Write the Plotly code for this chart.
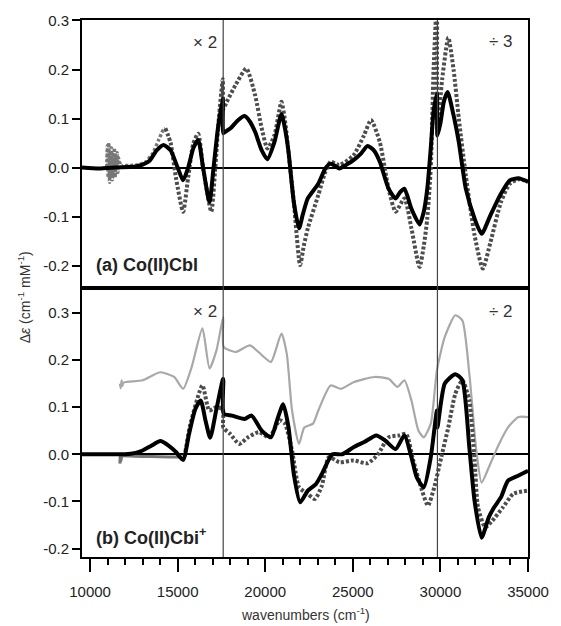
import plotly.graph_objects as go

# ---------------- data ----------------
# Panel (a) Co(II)Cbl
a_black_x = [9540, 10500, 11500, 12600, 13000, 13400, 13800, 14200, 14600, 15000, 15310, 15600, 15900, 16175, 16450,
             16817, 17050, 17300, 17580, 17610, 17800, 18020, 18400, 18820, 19100, 19420, 19800, 20125, 20525, 20925,
             21150, 21330, 21630, 21930, 22150, 22430, 23030, 23430, 23735, 24000, 24235, 24600, 25040, 25450, 25840,
             26200, 26540, 27040, 27445, 27700, 27945, 28345, 28810, 29050, 29250, 29450, 29610, 29800, 29830, 30000,
             30200, 30410, 30700, 31050, 31450, 31950, 32350, 32860, 33460, 33960, 34460, 35000]
a_black_y = [0.0, -0.002, 0.0, 0.002, 0.006, 0.014, 0.035, 0.046, 0.035, 0.0, -0.026, 0.0, 0.04, 0.056, 0.0,
             -0.070, 0.0, 0.08, 0.141, 0.07, 0.075, 0.08, 0.095, 0.105, 0.095, 0.073, 0.035, 0.017, 0.052, 0.109,
             0.075, 0.032, -0.070, -0.124, -0.095, -0.063, -0.033, -0.002, 0.008, 0.003, -0.002, 0.005, 0.015, 0.028, 0.044,
             0.035, 0.012, -0.043, -0.063, -0.05, -0.043, -0.084, -0.116, -0.09, -0.043, 0.04, 0.114, 0.15, 0.065, 0.09,
             0.135, 0.154, 0.115, 0.052, -0.043, -0.104, -0.135, -0.097, -0.053, -0.026, -0.022, -0.029]

a_dot_x = [14300, 14600, 14900, 15310, 15600, 15900, 16175, 16450, 16920, 17150, 17350, 17580, 17610, 17800, 18300,
           18920, 19420, 19800, 20125, 20525, 20925, 21150, 21330, 21630, 21990, 22200, 22430, 23030, 23430, 23735,
           24235, 25040, 25640, 26040, 26540, 27040, 27445, 27945, 28345, 28810, 29050, 29250, 29450, 29610, 29800,
           29830, 30100, 30450, 30750, 31050, 31450, 31950, 32420, 32860, 33460, 33960, 34460, 35000]
a_dot_y = [0.08, 0.05, -0.02, -0.09, -0.02, 0.05, 0.069, 0.0, -0.09, 0.0, 0.1, 0.18, 0.12, 0.134, 0.168,
           0.202, 0.148, 0.08, 0.039, 0.066, 0.134, 0.09, 0.03, -0.07, -0.199, -0.16, -0.124, -0.056, -0.009, 0.012,
           0.005, 0.025, 0.066, 0.097, 0.052, -0.043, -0.09, -0.063, -0.124, -0.203, -0.16, -0.104, 0.0, 0.2, 0.34,
           0.08, 0.18, 0.265, 0.2, 0.1, -0.016, -0.138, -0.206, -0.152, -0.07, -0.033, -0.024, -0.029]

a_nir_x = [10950, 10990, 11030, 11070, 11110, 11150, 11190, 11230, 11270, 11310, 11350, 11390, 11430, 11470, 11510,
           11550, 11590, 11630, 11670, 11710, 11760, 11900, 12300, 12800, 13200, 13600, 13900, 14150, 14300]
a_nir_y = [0.0, 0.045, -0.02, 0.05, -0.03, 0.035, -0.015, 0.04, -0.025, 0.03, -0.01, 0.04, -0.02, 0.025, 0.0,
           0.03, -0.01, 0.02, 0.0, 0.01, 0.002, 0.004, 0.004, 0.006, 0.012, 0.03, 0.055, 0.075, 0.08]

# Panel (b) Co(II)Cbi+
b_black_x = [9540, 11000, 12000, 12600, 13000, 13500, 14010, 14500, 14900, 15310, 15650, 16000, 16315, 16600, 16857,
             17200, 17600, 17630, 18100, 18820, 19220, 19800, 20325, 20700, 21025, 21330, 21630, 21990, 22430, 22900,
             23230, 23835, 24400, 25040, 25650, 26340, 26850, 27445, 27945, 28345, 28650, 29050, 29450, 29800, 29830,
             30250, 30850, 31250, 31650, 31950, 32350, 32760, 33060, 33460, 33860, 34460, 35000]
b_black_y = [0.0, 0.0, 0.0, 0.003, 0.008, 0.018, 0.028, 0.018, 0.005, -0.012, 0.043, 0.095, 0.114, 0.07, 0.035,
             0.093, 0.16, 0.086, 0.082, 0.075, 0.082, 0.05, 0.036, 0.075, 0.106, 0.057, -0.042, -0.102, -0.077, -0.063,
             -0.042, 0.0, 0.0, 0.015, 0.026, 0.04, 0.029, 0.011, 0.04, -0.006, -0.049, -0.07, -0.006, 0.093, 0.057,
             0.15, 0.17, 0.157, 0.015, -0.099, -0.177, -0.134, -0.113, -0.091, -0.056, -0.045, -0.035]

b_dot_x = [15000, 15310, 15700, 16415, 16800, 17200, 17580, 17610, 18000, 18520, 19020, 19620, 20225, 20825, 21125,
           21530, 21930, 22430, 22830, 23230, 23635, 24235, 25040, 25840, 26440, 27040, 27645, 28045, 28450, 28950,
           29290, 29650, 30050, 30450, 30850, 31250, 31650, 31950, 32150, 32560, 32960, 33560, 34160, 35000]
b_dot_y = [0.0, -0.01, 0.06, 0.146, 0.093, 0.1, 0.095, 0.057, 0.043, 0.022, 0.036, 0.047, 0.036, 0.072, 0.065,
           0.008, -0.07, -0.084, -0.095, -0.067, -0.006, -0.017, -0.013, -0.019, 0.0, 0.036, 0.04, 0.043, -0.013, -0.077,
           -0.109, -0.07, -0.006, 0.057, 0.128, 0.157, 0.114, -0.013, -0.113, -0.155, -0.141, -0.113, -0.084, -0.077]

b_abs_x = [11700, 11750, 11800, 11850, 11900, 13000, 14010, 14800, 15310, 15800, 16415, 16820, 17220, 17600, 17630,
           18320, 19120, 19820, 20325, 20925, 21230, 21530, 21930, 22230, 22730, 23030, 23735, 24335, 25040, 26240,
           27040, 27545, 27945, 28345, 28750, 29050, 29450, 29800, 30250, 30850, 31250, 31650, 32050, 32350, 32760,
           33260, 33860, 34460, 35000]
b_abs_y = [0.15, 0.14, 0.157, 0.145, 0.152, 0.157, 0.174, 0.164, 0.139, 0.185, 0.267, 0.182, 0.221, 0.291, 0.228,
           0.217, 0.231, 0.21, 0.196, 0.256, 0.213, 0.093, 0.022, 0.057, 0.065, 0.093, 0.146, 0.139, 0.153, 0.164,
           0.16, 0.143, 0.157, 0.114, 0.05, 0.036, 0.065, 0.178, 0.249, 0.295, 0.284, 0.171, 0.008, -0.06, -0.028,
           0.015, 0.057, 0.079, 0.079]

b_nir_x = [11700, 11730, 11760, 11800, 11900, 12500, 13500, 14500, 15200]
b_nir_y = [-0.02, 0.0, -0.015, -0.005, -0.003, -0.004, -0.005, -0.006, -0.006]

scale_breaks = [17600, 29830]
y_ticks = [-0.2, -0.1, 0.0, 0.1, 0.2, 0.3]
x_major = [10000, 15000, 20000, 25000, 30000, 35000]
x_minor = [10000 + 1000 * i for i in range(26)]

FONT = "Liberation Sans, Arial, sans-serif"
BLACK_W = 4
DOT_COL = "#4d4d4d"
DOT = "3px,2px"

fig = go.Figure()

def add(x, y, ax, color, width, dash="solid", smooth=0.6):
    fig.add_trace(go.Scatter(x=x, y=y, xaxis=ax[0], yaxis=ax[1], mode="lines",
                             line=dict(color=color, width=width, dash=dash, shape="spline", smoothing=smooth),
                             showlegend=False, hoverinfo="skip"))

# top panel
add(a_nir_x, a_nir_y, ("x2", "y2"), "#777777", 3.5, DOT, 0.3)
add(a_dot_x, a_dot_y, ("x2", "y2"), DOT_COL, 4, DOT)
add(a_black_x, a_black_y, ("x2", "y2"), "black", BLACK_W, "solid")
# bottom panel
add(b_abs_x, b_abs_y, ("x", "y"), "#a8a8a8", 2.2, "solid")
add(b_nir_x, b_nir_y, ("x", "y"), "#777777", 3, "solid", 0.3)
add(b_dot_x, b_dot_y, ("x", "y"), DOT_COL, 4, DOT)
add(b_black_x, b_black_y, ("x", "y"), "black", BLACK_W, "solid")

# layout geometry in page pixels (body margin removed by post_script below)
W, H = 561, 626
PL, PR, PT, PB = 82, 536.7, 20, 556.7        # plot frame in page pixels
L, T = PL, PT
R, B = W - PR, H - PB
pw, ph = PR - PL, PB - PT
split = (PB - 288) / ph

def px2paper_x(px):
    return (px - PL) / pw

def px2paper_y(py):
    return (PB - py) / ph

axis_common = dict(showline=True, linecolor="black", linewidth=2, mirror=True, showgrid=False,
                   tickfont=dict(family=FONT, size=15, color="#222"))

fig.update_layout(
    width=W, height=H, margin=dict(l=L, r=R, t=T, b=B, pad=0),
    paper_bgcolor="white", plot_bgcolor="white",
    font=dict(family=FONT, color="#222"),
    xaxis=dict(range=[9540, 35000], anchor="y", domain=[0, 1], tickmode="array", tickvals=x_major,
               ticktext=[str(v) for v in x_major],
               ticks="outside", ticklen=13, tickwidth=2, tickcolor="black", ticklabelstandoff=7,
               minor=dict(tickmode="array", tickvals=x_minor, ticks="outside", ticklen=6, tickwidth=2,
                          tickcolor="black", showgrid=False),
               zeroline=False, **axis_common),
    xaxis2=dict(range=[9540, 35000], anchor="y2", showticklabels=False, ticks="",
                zeroline=False, **axis_common),
    yaxis=dict(range=[-0.218, 0.3525], domain=[0, split], anchor="x", tickmode="array", tickvals=y_ticks,
               ticktext=["%.1f" % v for v in y_ticks],
               ticks="outside", ticklen=8, tickwidth=2, tickcolor="black",
               zeroline=True, zerolinecolor="black", zerolinewidth=2, **axis_common),
    yaxis2=dict(range=[-0.246, 0.301], domain=[split, 1], anchor="x2", tickmode="array", tickvals=y_ticks,
                ticktext=["%.1f" % v for v in y_ticks],
                ticks="outside", ticklen=8, tickwidth=2, tickcolor="black",
                zeroline=True, zerolinecolor="black", zerolinewidth=2, **axis_common),
)

for xb in scale_breaks:
    fig.add_shape(type="line", xref="x", yref="paper", x0=xb, x1=xb, y0=0, y1=1,
                  line=dict(color="#444", width=1.2), layer="above")

ann_font = dict(family=FONT, size=17, color="#333")
notes = [("× 2", 222, 42), ("÷ 3", 523, 41), ("× 2", 222, 311), ("÷ 2", 523, 311)]
for txt, px, py in notes:
    fig.add_annotation(text=txt, xref="paper", yref="paper", x=px2paper_x(px), y=px2paper_y(py),
                       xanchor="right", yanchor="middle", showarrow=False, font=ann_font)

lab_font = dict(family=FONT, size=18, color="#222")
fig.add_annotation(text="<b>(a) Co(II)Cbl</b>", xref="paper", yref="paper", x=px2paper_x(94), y=px2paper_y(265),
                   xanchor="left", yanchor="middle", showarrow=False, font=lab_font)
fig.add_annotation(text="<b>(b) Co(II)Cbi<sup>+</sup></b>", xref="paper", yref="paper", x=px2paper_x(94),
                   y=px2paper_y(536), xanchor="left", yanchor="middle", showarrow=False, font=lab_font)

fig.add_annotation(text="Δ<i>ε</i> (cm<sup>-1</sup> mM<sup>-1</sup>)", xref="paper", yref="paper",
                   x=px2paper_x(23), y=px2paper_y(297), textangle=-90, xanchor="center", yanchor="middle",
                   showarrow=False, font=dict(family=FONT, size=14, color="#333"))
fig.add_annotation(text="wavenumbers (cm<sup>-1</sup>)", xref="paper", yref="paper",
                   x=0.5, y=px2paper_y(614), xanchor="center", yanchor="middle",
                   showarrow=False, font=dict(family=FONT, size=14, color="#333"))

fig.write_html("out.html", config={"displayModeBar": False},
               post_script="document.body.style.margin='0';document.body.style.overflow='hidden';")
